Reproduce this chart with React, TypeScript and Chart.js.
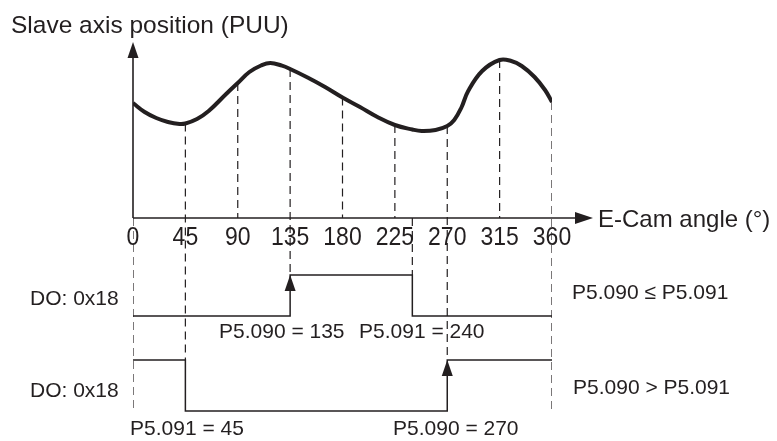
import { useEffect, useRef } from 'react';
import { Chart, registerables } from 'chart.js';

Chart.register(...registerables);

// ---- data ----
const ANGLE_TICKS = [0, 45, 90, 135, 180, 225, 270, 315, 360];

const CURVE_ANGLES = [0, 10, 20, 30, 40, 45, 55, 65, 80, 90, 100, 110, 118, 128, 135, 150, 165, 180, 195, 210, 225, 240, 248, 260, 270, 276, 282, 288, 300, 315, 325, 334, 345, 354, 360];
const CURVE_POSITIONS = [115, 106, 100, 96, 94, 94.5, 99, 107, 124, 135, 146, 152.5, 155, 152.3, 149, 140.5, 131, 120.5, 111, 101, 93, 88.5, 87, 88, 92, 98, 110, 127, 147, 158, 157, 152, 141, 128, 116];

const DO_A_EDGES = [0, 135, 240, 360];
const DO_A_STATES = [0, 1, 0, 0];
const DO_B_EDGES = [0, 45, 270, 360];
const DO_B_STATES = [1, 0, 1, 1];

const UPPER_GUIDE_ANGLES = [45, 90, 135, 180, 225, 270, 315, 360];
const LONG_GUIDE_ANGLES = [0, 45, 135, 240, 270, 360];
const LONG_GUIDE_LANES = ['B', 'B', 'A', 'A', 'B', 'B'];
const LONG_GUIDE_STATES = [0, 1, 1, 1, 1, 0];

const TITLE_Y = 'Slave axis position (PUU)';
const TITLE_X = 'E-Cam angle (°)';
const LANE_LABEL = 'DO: 0x18';

// ---- layout ----
const W = 777;
const H = 441;
const INK = '#231f20';
const FONT = '"Liberation Sans", Arial, Helvetica, sans-serif';
const LANES: Record<string, { low: number; high: number }> = {
  A: { low: -98, high: -57 },
  B: { low: -193, high: -142 },
};

const laneLevel = (lane: string, state: number) => (state ? LANES[lane].high : LANES[lane].low);
const curveAt = (a: number) => {
  const i = CURVE_ANGLES.indexOf(a);
  return i >= 0 ? CURVE_POSITIONS[i] : 0;
};

export default function App() {
  const ref = useRef<HTMLCanvasElement | null>(null);

  useEffect(() => {
    const canvas = ref.current;
    if (!canvas) return;

    const guideAngles = Array.from(new Set([...UPPER_GUIDE_ANGLES, ...LONG_GUIDE_ANGLES])).sort((a, b) => a - b);
    const guideSets = guideAngles.map((a) => {
      const top = UPPER_GUIDE_ANGLES.includes(a) ? curveAt(a) : 0;
      const li = LONG_GUIDE_ANGLES.indexOf(a);
      const bottom = li >= 0 ? laneLevel(LONG_GUIDE_LANES[li], LONG_GUIDE_STATES[li]) : 0;
      return {
        data: [
          { x: a, y: top },
          { x: a, y: bottom },
        ],
        borderColor: INK,
        borderWidth: 1.2,
        borderDash: [8, 5],
        pointRadius: 0,
        fill: false,
      };
    });

    const signal = (edges: number[], states: number[], lane: string) => ({
      data: edges.map((e, i) => ({ x: e, y: laneLevel(lane, states[i]) })),
      borderColor: INK,
      borderWidth: 1.5,
      stepped: 'before' as const,
      pointRadius: 0,
      fill: false,
    });

    const diagram = {
      id: 'diagram',
      afterDraw(chart: any) {
        const ctx = chart.ctx as CanvasRenderingContext2D;
        const xs = chart.scales.x;
        const ys = chart.scales.y;
        const x0 = xs.getPixelForValue(0);
        const y0 = ys.getPixelForValue(0);
        const xEnd = xs.getPixelForValue(360);
        ctx.save();
        ctx.strokeStyle = INK;
        ctx.fillStyle = INK;
        ctx.lineWidth = 1.6;
        // y axis
        ctx.beginPath();
        ctx.moveTo(x0, y0);
        ctx.lineTo(x0, 57);
        ctx.stroke();
        ctx.beginPath();
        ctx.moveTo(x0, 42);
        ctx.lineTo(x0 - 5.5, 58);
        ctx.lineTo(x0 + 5.5, 58);
        ctx.closePath();
        ctx.fill();
        // x axis
        ctx.beginPath();
        ctx.moveTo(x0, y0);
        ctx.lineTo(xEnd + 24, y0);
        ctx.stroke();
        ctx.beginPath();
        ctx.moveTo(xEnd + 41, y0);
        ctx.lineTo(xEnd + 23, y0 - 6);
        ctx.lineTo(xEnd + 23, y0 + 6);
        ctx.closePath();
        ctx.fill();

        // arrowheads on rising edges
        const arrows = (edges: number[], states: number[], lane: string) => {
          for (let i = 1; i < edges.length; i++) {
            if (states[i - 1] === 0 && states[i] === 1) {
              const px = xs.getPixelForValue(edges[i]);
              const py = ys.getPixelForValue(laneLevel(lane, 1));
              ctx.beginPath();
              ctx.moveTo(px, py);
              ctx.lineTo(px - 5.5, py + 16);
              ctx.lineTo(px + 5.5, py + 16);
              ctx.closePath();
              ctx.fill();
            }
          }
        };
        arrows(DO_A_EDGES, DO_A_STATES, 'A');
        arrows(DO_B_EDGES, DO_B_STATES, 'B');

        // texts
        ctx.textBaseline = 'alphabetic';
        ctx.textAlign = 'left';
        ctx.font = `24.5px ${FONT}`;
        ctx.fillText(TITLE_Y, 11, 33);
        ctx.font = `24px ${FONT}`;
        ctx.fillText(TITLE_X, xEnd + 46, y0 + 9);

        // tick labels (slightly tall glyphs, as in the reference)
        ctx.font = `23px ${FONT}`;
        ctx.textAlign = 'center';
        ANGLE_TICKS.forEach((t) => {
          ctx.save();
          ctx.translate(xs.getPixelForValue(t), y0 + 26.5);
          ctx.scale(1, 1.12);
          ctx.fillText(String(t), 0, 0);
          ctx.restore();
        });

        ctx.font = `21px ${FONT}`;
        ctx.textAlign = 'left';
        ctx.fillText(LANE_LABEL, 30, 305);
        ctx.fillText(LANE_LABEL, 30, 397);
        ctx.fillText(`P5.090 = ${DO_A_EDGES[1]}`, 219, 338);
        ctx.fillText(`P5.091 = ${DO_A_EDGES[2]}`, 359, 338);
        ctx.fillText(`P5.091 = ${DO_B_EDGES[1]}`, 130, 435);
        ctx.fillText(`P5.090 = ${DO_B_EDGES[2]}`, 393, 435);
        ctx.fillText('P5.090 ≤ P5.091', 572, 299);
        ctx.fillText('P5.090 > P5.091', 573, 394);
        ctx.restore();
      },
    };

    const chart = new Chart(canvas, {
      type: 'line',
      data: {
        datasets: [
          {
            data: CURVE_ANGLES.map((a, i) => ({ x: a, y: CURVE_POSITIONS[i] })),
            borderColor: INK,
            borderWidth: 4,
            pointRadius: 0,
            tension: 0.4,
            fill: false,
          },
          signal(DO_A_EDGES, DO_A_STATES, 'A'),
          signal(DO_B_EDGES, DO_B_STATES, 'B'),
          ...guideSets,
        ] as any,
      },
      options: {
        responsive: false,
        maintainAspectRatio: false,
        animation: false,
        devicePixelRatio: 1,
        layout: { padding: { left: 133, right: 225, top: 0, bottom: 0 } },
        plugins: { legend: { display: false }, tooltip: { enabled: false } },
        scales: {
          x: { type: 'linear', min: 0, max: 360, display: false },
          y: { type: 'linear', min: -223, max: 218, display: false },
        },
      },
      plugins: [diagram],
    });

    return () => chart.destroy();
  }, []);

  return (
    <div style={{ position: 'fixed', left: 0, top: 0, width: W, height: H, background: '#fff' }}>
      <canvas ref={ref} width={W} height={H} style={{ width: W, height: H, display: 'block' }} />
    </div>
  );
}
